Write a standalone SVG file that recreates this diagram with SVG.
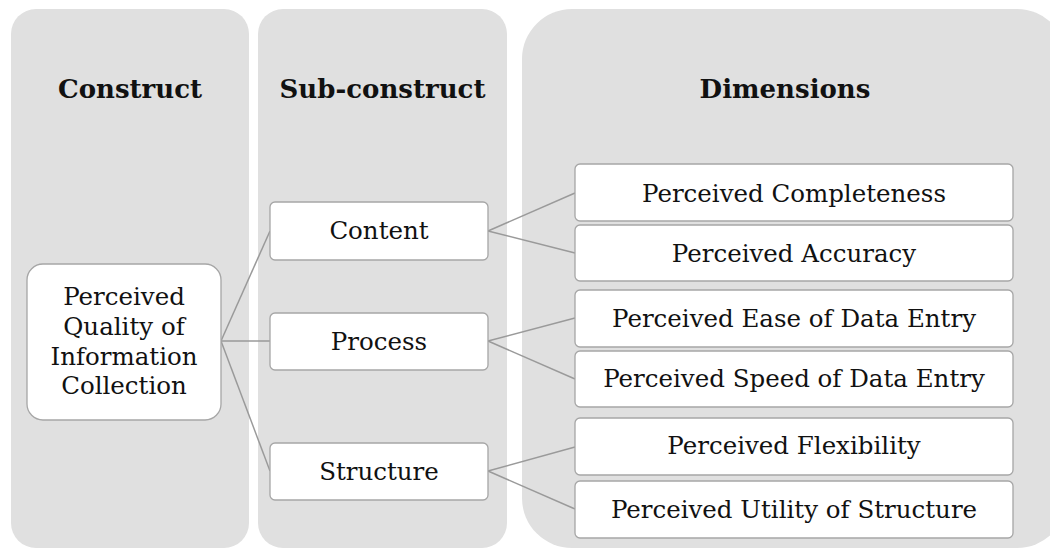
<svg xmlns="http://www.w3.org/2000/svg" width="1050" height="550" viewBox="0 0 1050 550">
<style>
.panel{fill:#e0e0e0;}
.hdr{font-family:"DejaVu Serif","Liberation Serif",serif;font-weight:bold;font-size:26px;fill:#111;text-anchor:middle;}
.box{fill:#ffffff;stroke:#a6a6a6;stroke-width:1.3;}
.lbl{font-family:"DejaVu Serif","Liberation Serif",serif;font-size:24.5px;fill:#111;text-anchor:middle;}
.con{stroke:#9a9a9a;stroke-width:1.5;fill:none;}
</style>
<rect width="1050" height="550" fill="#ffffff"/>
<g id="panels">
<rect class="panel" x="11" y="9" width="238" height="539" rx="25"/>
<rect class="panel" x="258" y="9" width="249" height="539" rx="25"/>
<rect class="panel" x="522" y="9" width="545" height="539" rx="50"/>
<text class="hdr" x="130" y="98">Construct</text>
<text class="hdr" x="382.5" y="98">Sub-construct</text>
<text class="hdr" x="785" y="98">Dimensions</text>
</g>
<g id="connectors">
<line class="con" x1="221" y1="341" x2="270" y2="231"/>
<line class="con" x1="221" y1="341" x2="270" y2="341"/>
<line class="con" x1="221" y1="341" x2="270" y2="471"/>
<line class="con" x1="488" y1="231" x2="575" y2="193"/>
<line class="con" x1="488" y1="231" x2="575" y2="253"/>
<line class="con" x1="488" y1="341" x2="575" y2="318"/>
<line class="con" x1="488" y1="341" x2="575" y2="379"/>
<line class="con" x1="488" y1="471" x2="575" y2="447"/>
<line class="con" x1="488" y1="471" x2="575" y2="509"/>
</g>
<g id="construct">
<rect class="box" x="27" y="264" width="194" height="156" rx="16"/>
<text class="lbl" x="124" y="305">Perceived</text>
<text class="lbl" x="124" y="335">Quality of</text>
<text class="lbl" x="124" y="365">Information</text>
<text class="lbl" x="124" y="394">Collection</text>
</g>
<g id="content">
<rect class="box" x="270" y="202" width="218" height="58" rx="5"/>
<text class="lbl" x="379" y="239">Content</text>
</g>
<g id="process">
<rect class="box" x="270" y="313" width="218" height="57" rx="5"/>
<text class="lbl" x="379" y="350">Process</text>
</g>
<g id="structure">
<rect class="box" x="270" y="443" width="218" height="57" rx="5"/>
<text class="lbl" x="379" y="480">Structure</text>
</g>
<g id="completeness">
<rect class="box" x="575" y="164" width="438" height="57" rx="5"/>
<text class="lbl" x="794" y="202">Perceived Completeness</text>
</g>
<g id="accuracy">
<rect class="box" x="575" y="225" width="438" height="56" rx="5"/>
<text class="lbl" x="794" y="262">Perceived Accuracy</text>
</g>
<g id="ease">
<rect class="box" x="575" y="290" width="438" height="57" rx="5"/>
<text class="lbl" x="794" y="327">Perceived Ease of Data Entry</text>
</g>
<g id="speed">
<rect class="box" x="575" y="351" width="438" height="56" rx="5"/>
<text class="lbl" x="794" y="387">Perceived Speed of Data Entry</text>
</g>
<g id="flexibility">
<rect class="box" x="575" y="418" width="438" height="57" rx="5"/>
<text class="lbl" x="794" y="454">Perceived Flexibility</text>
</g>
<g id="utility">
<rect class="box" x="575" y="481" width="438" height="57" rx="5"/>
<text class="lbl" x="794" y="518">Perceived Utility of Structure</text>
</g>
</svg>
